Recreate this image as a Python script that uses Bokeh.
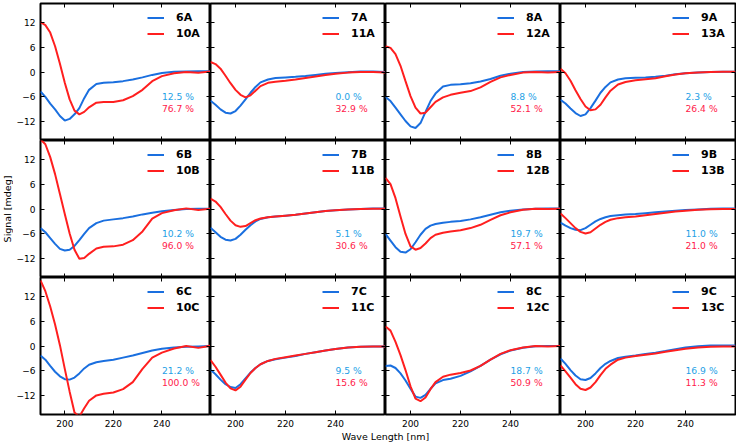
import math
from bokeh.plotting import figure
from bokeh.models import (LinearAxis, FixedTicker, Legend, LegendItem, Label,
                          Range1d)
from bokeh.layouts import gridplot, row, column
from bokeh.embed import file_html
from bokeh.resources import INLINE

# ---------------- data ----------------
WL = [190, 192, 194, 196, 198, 200, 202, 204, 206, 208, 210, 213, 216, 220,
      224, 228, 232, 236, 240, 245, 250, 255, 260]

cd_6A = [-4.7, -6.0, -7.6, -9.0, -10.6, -11.7, -11.3, -10.2, -8.7, -6.3, -4.3, -2.9, -2.6, -2.45, -2.2, -1.8, -1.3, -0.7, -0.25, 0.05, 0.15, 0.2, 0.15]
cd_10A = [12.0, 11.3, 9.5, 6.2, 2.0, -2.6, -6.6, -9.3, -10.2, -9.6, -8.5, -7.4, -7.2, -7.2, -6.8, -5.8, -4.3, -2.2, -1.0, -0.3, 0.0, -0.2, 0.15]
cd_7A = [-6.9, -7.9, -9.0, -9.8, -10.0, -9.4, -8.1, -6.6, -5.0, -3.6, -2.5, -1.8, -1.45, -1.3, -1.15, -0.95, -0.7, -0.45, -0.25, -0.05, 0.1, 0.15, 0.0]
cd_11A = [2.4, 1.9, 0.8, -0.9, -2.7, -4.3, -5.5, -6.1, -5.6, -4.5, -3.4, -2.6, -2.35, -2.1, -1.8, -1.45, -1.1, -0.7, -0.4, -0.15, 0.0, 0.0, -0.1]
cd_8A = [-6.0, -7.0, -8.6, -10.2, -11.8, -13.1, -13.5, -12.3, -9.6, -7.0, -5.2, -3.5, -3.1, -2.95, -2.7, -2.3, -1.7, -0.9, -0.4, 0.0, 0.15, 0.2, 0.15]
cd_12A = [6.2, 5.8, 4.3, 1.5, -2.2, -5.8, -8.6, -10.0, -9.8, -8.5, -7.2, -6.1, -5.5, -5.0, -4.6, -3.7, -2.4, -1.3, -0.7, -0.15, 0.0, -0.1, 0.0]
cd_9A = [-6.7, -7.6, -8.8, -9.9, -10.6, -10.2, -8.7, -6.9, -5.0, -3.6, -2.5, -1.8, -1.5, -1.4, -1.3, -1.15, -0.9, -0.55, -0.3, -0.1, 0.0, 0.05, 0.05]
cd_13A = [0.8, -0.3, -2.1, -4.4, -6.5, -8.3, -9.2, -9.0, -7.9, -6.1, -4.5, -3.0, -2.4, -2.0, -1.75, -1.5, -1.0, -0.6, -0.3, -0.1, 0.0, 0.05, 0.05]

cd_6B = [-4.6, -5.6, -7.0, -8.4, -9.6, -10.0, -9.8, -8.9, -7.5, -6.0, -4.6, -3.4, -2.8, -2.5, -2.2, -1.8, -1.3, -0.9, -0.55, -0.25, 0.0, 0.05, 0.05]
cd_10B = [16.8, 15.6, 12.5, 8.4, 3.6, -1.2, -5.9, -9.8, -12.0, -11.8, -10.8, -9.5, -9.1, -9.0, -8.6, -7.5, -5.4, -2.3, -1.0, -0.3, 0.15, -0.25, 0.05]
cd_7B = [-4.5, -5.6, -6.7, -7.4, -7.6, -7.2, -6.2, -5.0, -3.9, -3.0, -2.4, -2.0, -1.8, -1.6, -1.4, -1.1, -0.8, -0.5, -0.3, -0.1, 0.0, 0.1, 0.1]
cd_11B = [2.5, 1.8, 0.5, -1.2, -2.8, -3.9, -4.3, -4.1, -3.4, -2.7, -2.3, -2.0, -1.8, -1.6, -1.4, -1.1, -0.8, -0.5, -0.3, -0.1, 0.0, 0.05, 0.05]
cd_8B = [-6.0, -7.6, -9.2, -10.3, -10.5, -9.7, -8.0, -6.2, -4.8, -4.0, -3.6, -3.3, -3.1, -2.9, -2.5, -2.0, -1.4, -0.8, -0.4, -0.1, 0.05, 0.1, 0.1]
cd_12B = [7.5, 6.0, 2.6, -1.8, -6.0, -9.0, -9.8, -9.4, -8.3, -7.0, -6.2, -5.7, -5.4, -5.1, -4.6, -3.8, -2.6, -1.5, -0.8, -0.2, 0.05, 0.0, 0.05]
cd_9B = [-3.3, -4.0, -4.6, -5.0, -5.1, -4.6, -3.8, -3.0, -2.4, -2.0, -1.7, -1.5, -1.35, -1.2, -1.0, -0.8, -0.6, -0.4, -0.25, -0.1, 0.05, 0.1, 0.1]
cd_13B = [-1.1, -2.2, -3.4, -4.6, -5.5, -5.9, -5.6, -4.7, -3.8, -3.1, -2.6, -2.2, -2.0, -1.8, -1.5, -1.2, -0.9, -0.6, -0.4, -0.2, -0.05, 0.0, 0.0]

cd_6C = [-2.3, -3.3, -4.8, -6.2, -7.3, -8.0, -8.1, -7.6, -6.6, -5.4, -4.5, -3.9, -3.6, -3.3, -2.8, -2.3, -1.7, -1.1, -0.65, -0.35, -0.2, -0.1, 0.0]
cd_10C = [15.8, 13.2, 9.5, 5.2, 0.2, -5.5, -11.0, -16.0, -17.0, -15.0, -13.2, -11.9, -11.5, -11.2, -10.4, -8.7, -5.5, -2.8, -1.6, -0.6, 0.0, -0.45, 0.05]
cd_7C = [-5.7, -6.8, -8.1, -9.2, -9.9, -10.1, -9.2, -7.8, -6.4, -5.3, -4.4, -3.6, -3.2, -2.8, -2.4, -1.9, -1.5, -1.1, -0.7, -0.35, -0.2, -0.15, -0.15]
cd_11C = [-3.4, -5.0, -6.9, -8.8, -10.2, -10.7, -9.8, -8.1, -6.5, -5.3, -4.4, -3.6, -3.1, -2.7, -2.3, -1.9, -1.5, -1.1, -0.7, -0.35, -0.2, -0.15, -0.15]
cd_8C = [-4.8, -4.7, -5.3, -6.6, -8.3, -10.3, -12.2, -12.5, -11.8, -10.3, -9.0, -8.2, -7.9, -7.2, -6.1, -4.8, -3.3, -2.0, -1.1, -0.4, -0.05, 0.0, 0.0]
cd_12C = [4.7, 3.7, 1.0, -2.2, -5.8, -9.7, -12.7, -13.3, -12.4, -10.4, -8.7, -7.4, -6.9, -6.5, -5.9, -4.8, -3.3, -1.9, -1.0, -0.35, 0.0, -0.1, 0.0]
cd_9C = [-3.0, -4.3, -5.8, -7.1, -8.0, -8.2, -7.7, -6.6, -5.3, -4.3, -3.6, -2.9, -2.6, -2.3, -1.9, -1.6, -1.2, -0.75, -0.35, -0.05, 0.1, 0.15, 0.15]
cd_13C = [-4.7, -6.1, -7.6, -9.2, -10.3, -10.6, -10.0, -8.7, -7.0, -5.5, -4.5, -3.3, -2.8, -2.4, -2.1, -1.8, -1.4, -1.0, -0.65, -0.35, -0.2, -0.15, -0.15]

ROW_LETTERS = ["A", "B", "C"]
BLUE_IDS = ["6", "7", "8", "9"]
RED_IDS = ["10", "11", "12", "13"]

PCT_BLUE = [[12.5, 0.0, 8.8, 2.3],
            [10.2, 5.1, 19.7, 11.0],
            [21.2, 9.5, 18.7, 16.9]]
PCT_RED = [[76.7, 32.9, 52.1, 26.4],
           [96.0, 30.6, 57.1, 21.0],
           [100.0, 15.6, 50.9, 11.3]]

X_TICKS = [200, 220, 240]
Y_TICKS = [-12, -6, 0, 6, 12]
X_LABEL = "Wave Length [nm]"
Y_LABEL = "Signal [mdeg]"

SERIES = {
    "6A": cd_6A, "10A": cd_10A, "7A": cd_7A, "11A": cd_11A,
    "8A": cd_8A, "12A": cd_12A, "9A": cd_9A, "13A": cd_13A,
    "6B": cd_6B, "10B": cd_10B, "7B": cd_7B, "11B": cd_11B,
    "8B": cd_8B, "12B": cd_12B, "9B": cd_9B, "13B": cd_13B,
    "6C": cd_6C, "10C": cd_10C, "7C": cd_7C, "11C": cd_11C,
    "8C": cd_8C, "12C": cd_12C, "9C": cd_9C, "13C": cd_13C,
}

# ---------------- style ----------------
FONT = "DejaVu Sans"
X_START, X_END = 190, 260
Y_START, Y_END = -16.5, 16.5
BLUE = "#1a6fdf"
RED = "#ff1f1f"
TXT_BLUE = "#1e9fe6"
TXT_RED = "#ff1a4a"
FRAME_W, FRAME_H = 175, 137
TOP_B, LEFT_B, BOTTOM_B, RIGHT_B = 3, 22, 16, 1
YLAB_W, XLAB_H = 13, 12
PCT_X, PCT_Y_BLUE, PCT_Y_RED = 240, -5.9, -8.9


def add_axes(p, show_left, show_bottom):
    fixed = {"below": Y_START, "above": Y_END, "left": X_START, "right": X_END}
    for side in ["below", "above", "left", "right"]:
        is_x = side in ("below", "above")
        ax = LinearAxis(ticker=FixedTicker(ticks=X_TICKS if is_x else Y_TICKS,
                                           minor_ticks=[]))
        ax.major_tick_in = 4
        ax.major_tick_out = 0
        ax.major_tick_line_color = "black"
        ax.major_tick_line_width = 1
        ax.minor_tick_line_color = None
        ax.axis_line_color = None
        ax.major_label_text_font = FONT
        ax.major_label_text_font_size = "9px"
        ax.major_label_text_color = "black"
        show = (side == "below" and show_bottom) or (side == "left" and show_left)
        if show:
            ax.major_label_standoff = 5
            if side == "left":
                ax.major_label_overrides = {-12: "\u221212", -6: "\u22126"}
        else:
            ax.fixed_location = fixed[side]
            ax.major_label_text_color = None
        p.add_layout(ax, side)


grid_rows = []
for r, letter in enumerate(ROW_LETTERS):
    fig_row = []
    for c in range(4):
        left_b = LEFT_B if c == 0 else 0
        right_b = RIGHT_B if c == 3 else 0
        top_b = TOP_B if r == 0 else 0
        bottom_b = BOTTOM_B if r == 2 else 0
        p = figure(width=FRAME_W + left_b + right_b,
                   height=FRAME_H + top_b + bottom_b,
                   x_range=Range1d(X_START, X_END),
                   y_range=Range1d(Y_START, Y_END),
                   x_axis_location=None, y_axis_location=None,
                   toolbar_location=None, output_backend="svg",
                   min_border=0, min_border_left=left_b,
                   min_border_right=right_b, min_border_top=top_b,
                   min_border_bottom=bottom_b)
        p.grid.visible = False
        p.outline_line_color = "black"
        p.outline_line_width = 2
        p.background_fill_color = "white"
        p.border_fill_color = "white"
        add_axes(p, c == 0, r == 2)

        b_name = BLUE_IDS[c] + letter
        r_name = RED_IDS[c] + letter
        rb = p.line(WL, SERIES[b_name], line_color=BLUE, line_width=2)
        rr = p.line(WL, SERIES[r_name], line_color=RED, line_width=2)

        legend = Legend(items=[LegendItem(label=b_name, renderers=[rb]),
                               LegendItem(label=r_name, renderers=[rr])],
                        location="top_right")
        legend.border_line_color = None
        legend.background_fill_alpha = 0
        legend.label_text_font = FONT
        legend.label_text_font_style = "bold"
        legend.label_text_font_size = "11px"
        legend.label_text_color = "black"
        legend.glyph_width = 17
        legend.glyph_height = 13
        legend.label_height = 13
        legend.label_width = 26
        legend.label_standoff = 12
        legend.spacing = 3
        legend.padding = 0
        legend.margin = 8
        p.add_layout(legend)

        p.add_layout(Label(x=PCT_X, y=PCT_Y_BLUE,
                           text=f"{PCT_BLUE[r][c]:.1f} %",
                           text_font=FONT, text_font_size="9.2px",
                           text_color=TXT_BLUE, text_baseline="middle"))
        p.add_layout(Label(x=PCT_X, y=PCT_Y_RED,
                           text=f"{PCT_RED[r][c]:.1f} %",
                           text_font=FONT, text_font_size="9.2px",
                           text_color=TXT_RED, text_baseline="middle"))
        fig_row.append(p)
    grid_rows.append(fig_row)

grid = gridplot(grid_rows, toolbar_location=None)

total_h = TOP_B + 3 * FRAME_H + BOTTOM_B
ylab = figure(width=YLAB_W, height=total_h, x_range=Range1d(0, 1),
              y_range=Range1d(0, 1), x_axis_location=None, y_axis_location=None,
              toolbar_location=None, output_backend="svg", min_border=0,
              min_border_top=TOP_B, min_border_bottom=BOTTOM_B)
ylab.grid.visible = False
ylab.outline_line_color = None
ylab.add_layout(Label(x=0.5, y=0.5, text=Y_LABEL, angle=math.pi / 2,
                      text_align="center", text_baseline="middle",
                      text_font=FONT, text_font_size="9.5px",
                      text_color="black"))

xlab = figure(width=LEFT_B + 4 * FRAME_W + RIGHT_B, height=XLAB_H,
              x_range=Range1d(0, 1), y_range=Range1d(0, 1),
              x_axis_location=None, y_axis_location=None,
              toolbar_location=None, output_backend="svg", min_border=0,
              min_border_left=LEFT_B, min_border_right=RIGHT_B)
xlab.grid.visible = False
xlab.outline_line_color = None
xlab.add_layout(Label(x=0.5, y=0.5, text=X_LABEL, text_align="center",
                      text_baseline="middle", text_font=FONT,
                      text_font_size="9.5px", text_color="black"))

layout = row(ylab, column(grid, xlab))

open("out.html", "w").write(file_html(layout, INLINE))
